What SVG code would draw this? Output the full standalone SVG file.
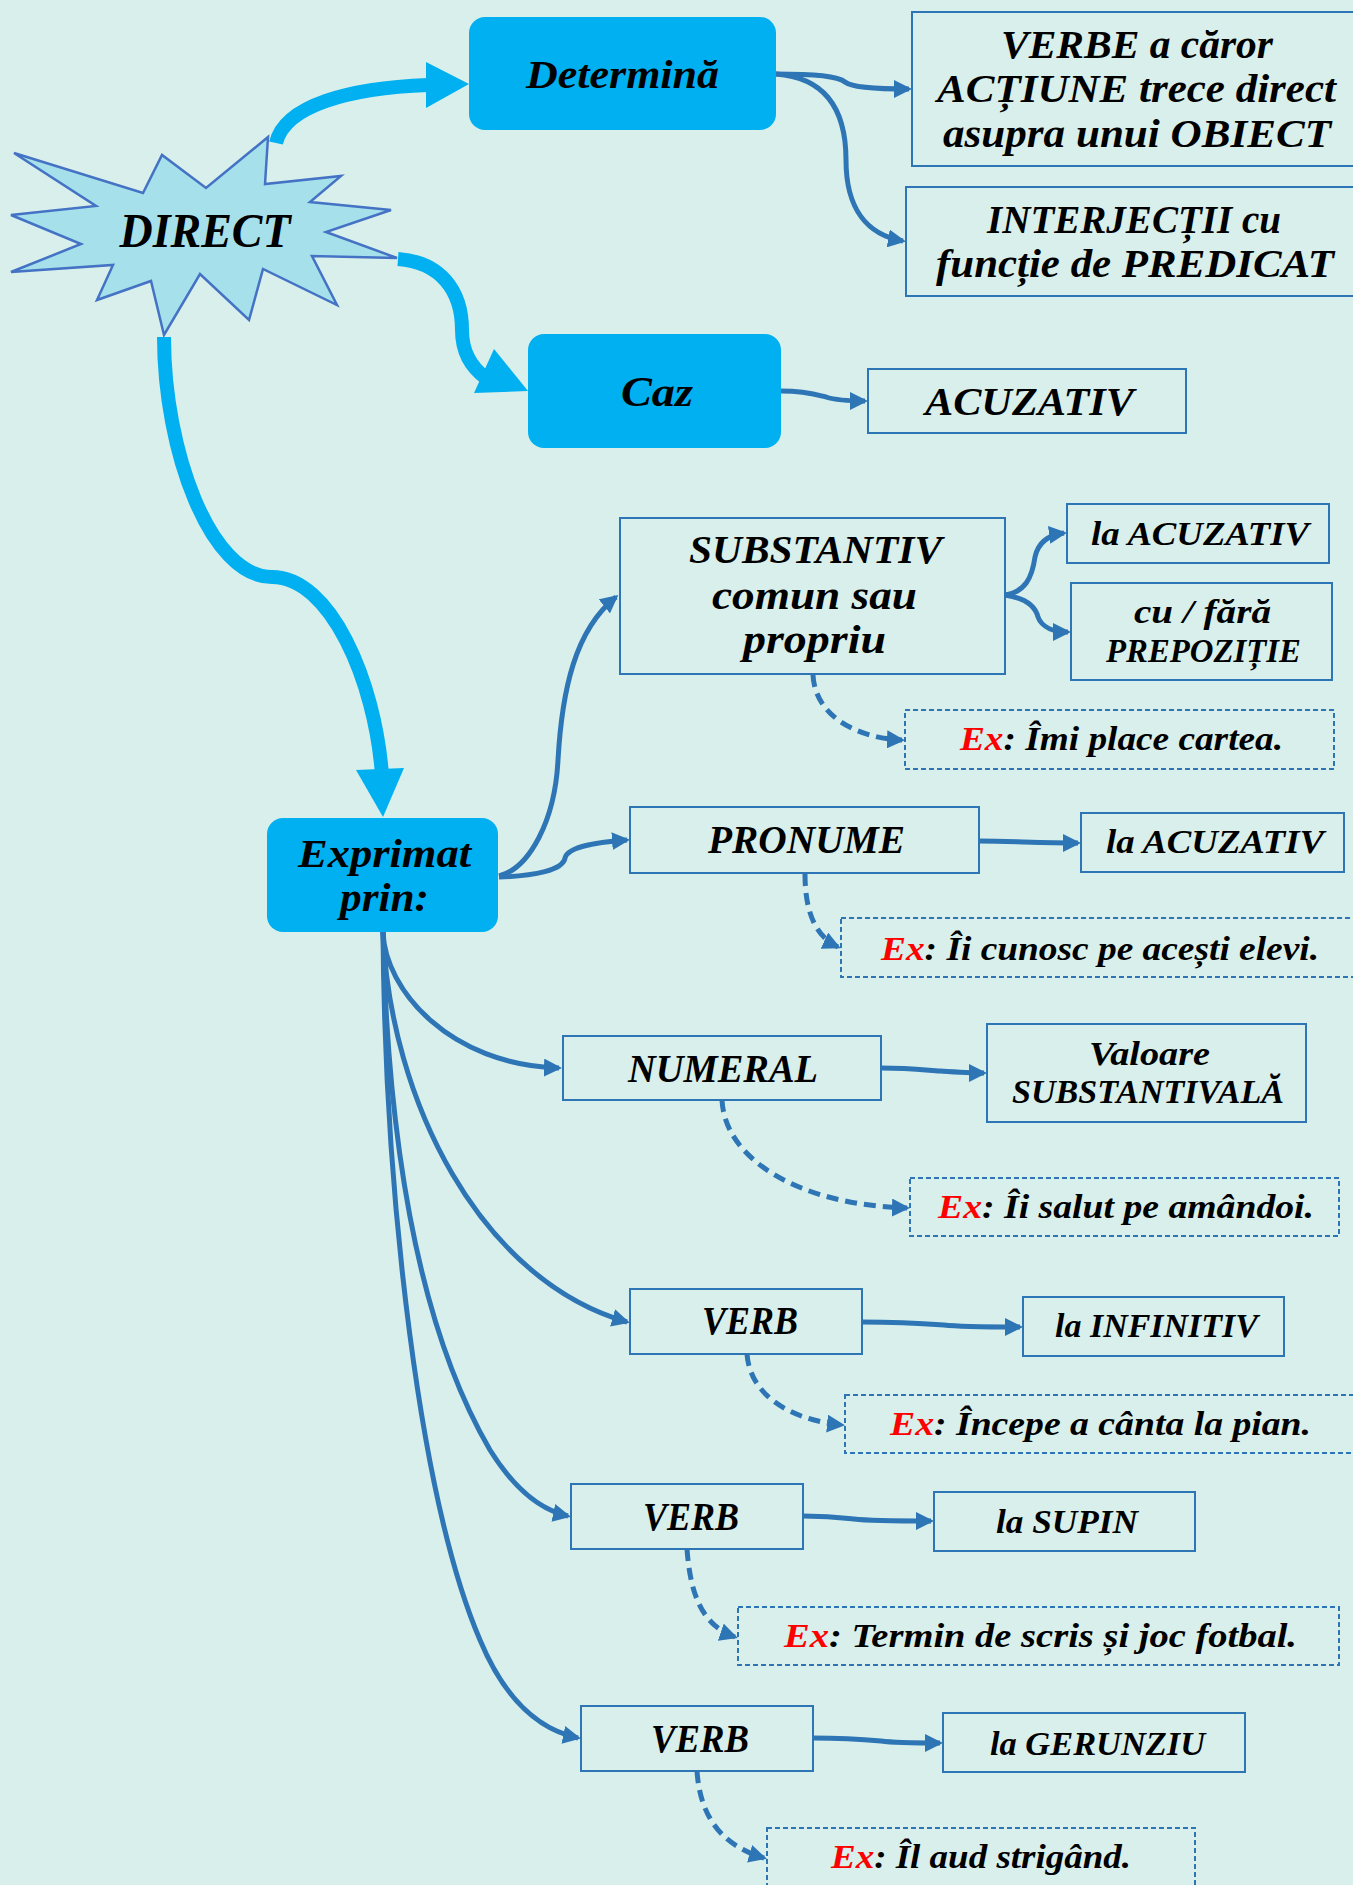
<svg xmlns="http://www.w3.org/2000/svg" width="1353" height="1885" viewBox="0 0 1353 1885">
<style>
text{font-family:"Liberation Serif","Times New Roman",serif;font-weight:bold;font-style:italic;fill:#000}
.big{font-size:40px}
.sm{font-size:34px}
.c{text-anchor:middle}
.red{fill:#ff0000}
.box{fill:none;stroke:#2e75b6;stroke-width:2}
.dbox{fill:none;stroke:#2e75b6;stroke-width:2;stroke-dasharray:5 3}
.pill{fill:#00b0f0}
.ln{fill:none;stroke:#2e75b6;stroke-width:5;marker-end:url(#ah)}
.dl{fill:none;stroke:#2e75b6;stroke-width:5;stroke-dasharray:12 7;marker-end:url(#ah)}
.thick{fill:none;stroke:#00b0f0;stroke-width:14}
.thead{fill:#00b0f0}
</style>
<defs>
<marker id="ah" markerUnits="userSpaceOnUse" markerWidth="18" markerHeight="18" refX="15" refY="9" orient="auto">
<path d="M0,0 L18,9 L0,18 Z" fill="#2e75b6"/>
</marker>
</defs>
<rect x="0" y="0" width="1353" height="1885" fill="#d9efeb"/>

<g id="direct">
<polygon points="268,137 206,188 162,155 143,193 14,153 96,206 11,215 81,244 11,272 113,265 97,300 151,281 164,335 200,274 249,320 263,269 337,305 312,256 397,258 326,232 391,210 310,202 341,176 265,184" fill="#a6e0ea" stroke="#4472c4" stroke-width="2.5" stroke-linejoin="miter"/>
<text class="c" x="205" y="247" font-size="48" textLength="171" lengthAdjust="spacingAndGlyphs">DIRECT</text>
</g>

<g id="connectors">
<path class="thick" d="M276,143 C285,105 350,88 428,85"/>
<polygon class="thead" points="426,62 426,108 469,84"/>
<path class="thick" d="M398,259 C440,262 462,290 462,330 C462,352 472,368 486,378"/>
<polygon class="thead" points="494,349 474,393 528,391"/>
<path class="thick" d="M164,337 C164,450 210,577 272,577 C330,577 375,680 382,775"/>
<polygon class="thead" points="356,770 404,768 383,817"/>

<path class="ln" d="M776,74 C815,74 838,76 845,82 C852,88 880,89 909,89"/>
<path class="ln" d="M776,74 C830,78 846,115 846,160 C846,210 868,235 903,241"/>
<path class="ln" d="M781,391 C805,391 818,395 826,397 C835,400 850,401 865,401"/>
<path class="ln" d="M499,876 C530,868 555,820 558,760 C562,690 575,630 616,597"/>
<path class="ln" d="M499,877 C535,876 563,870 565,858 C568,846 600,842 627,840"/>
<path class="ln" d="M1005,595 C1025,592 1032,578 1035,557 C1038,543 1048,535 1064,533"/>
<path class="ln" d="M1005,595 C1025,598 1035,605 1038,617 C1042,628 1055,632 1068,632"/>
<path class="ln" d="M979,841 C1010,841 1040,843 1078,843"/>
<path class="ln" d="M881,1068 C910,1068 925,1070 940,1071 C955,1072 970,1073 984,1073"/>
<path class="ln" d="M862,1322 C900,1322 930,1324 944,1325 C960,1327 990,1327 1020,1327"/>
<path class="ln" d="M803,1516 C830,1516 845,1518 854,1519 C870,1521 900,1521 931,1521"/>
<path class="ln" d="M813,1738 C845,1738 870,1740 881,1741 C895,1743 920,1743 940,1743"/>
<path class="ln" d="M383,932 C385,990 450,1065 559,1068"/>
<path class="ln" d="M383,932 C390,1100 480,1280 627,1322"/>
<path class="ln" d="M383,932 C388,1150 420,1330 490,1450 C515,1490 540,1510 568,1516"/>
<path class="ln" d="M383,932 C385,1200 420,1500 480,1640 C505,1700 540,1730 578,1738"/>

<path class="dl" d="M813,675 C815,715 855,738 902,740"/>
<path class="dl" d="M805,874 C805,905 812,935 838,947"/>
<path class="dl" d="M722,1100 C725,1160 800,1205 907,1208"/>
<path class="dl" d="M747,1354 C750,1395 790,1420 842,1425"/>
<path class="dl" d="M687,1549 C690,1590 700,1625 735,1637"/>
<path class="dl" d="M697,1771 C700,1815 720,1845 764,1858"/>
</g>

<g id="determina">
<rect class="pill" x="469" y="17" width="307" height="113" rx="16"/>
<text class="big" x="526" y="88" textLength="193" lengthAdjust="spacingAndGlyphs">Determină</text>
</g>
<g id="caz">
<rect class="pill" x="528" y="334" width="253" height="114" rx="16"/>
<text x="621" y="406" font-size="42" textLength="72" lengthAdjust="spacingAndGlyphs">Caz</text>
</g>
<g id="exprimat">
<rect class="pill" x="267" y="818" width="231" height="114" rx="16"/>
<text class="big" x="298" y="867" textLength="173" lengthAdjust="spacingAndGlyphs">Exprimat</text>
<text class="big" x="340" y="911" textLength="89" lengthAdjust="spacingAndGlyphs">prin:</text>
</g>

<g id="verbe">
<rect class="box" x="912" y="12" width="450" height="154"/>
<text class="big" x="1001" y="58" textLength="272" lengthAdjust="spacingAndGlyphs">VERBE a căror</text>
<text class="big" x="937" y="102" textLength="399" lengthAdjust="spacingAndGlyphs">ACȚIUNE trece direct</text>
<text class="big" x="943" y="147" textLength="388" lengthAdjust="spacingAndGlyphs">asupra unui OBIECT</text>
</g>
<g id="interjectii">
<rect class="box" x="906" y="187" width="456" height="109"/>
<text class="big" x="987" y="233" textLength="294" lengthAdjust="spacingAndGlyphs">INTERJECȚII cu</text>
<text class="big" x="936" y="277" textLength="398" lengthAdjust="spacingAndGlyphs">funcție de PREDICAT</text>
</g>
<g id="acuzativ">
<rect class="box" x="868" y="369" width="318" height="64"/>
<text class="big" x="925" y="415" textLength="209" lengthAdjust="spacingAndGlyphs">ACUZATIV</text>
</g>

<g id="substantiv">
<rect class="box" x="620" y="518" width="385" height="156"/>
<text class="big" x="689" y="563" textLength="253" lengthAdjust="spacingAndGlyphs">SUBSTANTIV</text>
<text class="big" x="712" y="609" textLength="205" lengthAdjust="spacingAndGlyphs">comun sau</text>
<text class="big" x="743" y="653" textLength="143" lengthAdjust="spacingAndGlyphs">propriu</text>
</g>
<g id="subst-acuzativ">
<rect class="box" x="1067" y="504" width="262" height="59"/>
<text class="sm" x="1091" y="545" textLength="218" lengthAdjust="spacingAndGlyphs">la ACUZATIV</text>
</g>
<g id="subst-prepozitie">
<rect class="box" x="1071" y="583" width="261" height="97"/>
<text class="sm" x="1134" y="623" textLength="137" lengthAdjust="spacingAndGlyphs">cu / fără</text>
<text class="sm" x="1106" y="662" textLength="195" lengthAdjust="spacingAndGlyphs">PREPOZIȚIE</text>
</g>
<g id="ex1">
<rect class="dbox" x="905" y="710" width="429" height="59"/>
<text class="sm" x="960" y="750" textLength="323" lengthAdjust="spacingAndGlyphs"><tspan class="red">Ex</tspan>: Îmi place cartea.</text>
</g>

<g id="pronume">
<rect class="box" x="630" y="807" width="349" height="66"/>
<text class="big" x="708" y="853" textLength="197" lengthAdjust="spacingAndGlyphs">PRONUME</text>
</g>
<g id="pron-acuzativ">
<rect class="box" x="1081" y="813" width="263" height="59"/>
<text class="sm" x="1106" y="853" textLength="218" lengthAdjust="spacingAndGlyphs">la ACUZATIV</text>
</g>
<g id="ex2">
<rect class="dbox" x="841" y="918" width="520" height="59"/>
<text class="sm" x="881" y="960" textLength="438" lengthAdjust="spacingAndGlyphs"><tspan class="red">Ex</tspan>: Îi cunosc pe acești elevi.</text>
</g>

<g id="numeral">
<rect class="box" x="563" y="1036" width="318" height="64"/>
<text class="big" x="628" y="1082" textLength="190" lengthAdjust="spacingAndGlyphs">NUMERAL</text>
</g>
<g id="valoare">
<rect class="box" x="987" y="1024" width="319" height="98"/>
<text class="sm" x="1089" y="1065" textLength="121" lengthAdjust="spacingAndGlyphs">Valoare</text>
<text class="sm" x="1012" y="1103" textLength="272" lengthAdjust="spacingAndGlyphs">SUBSTANTIVALĂ</text>
</g>
<g id="ex3">
<rect class="dbox" x="910" y="1178" width="429" height="58"/>
<text class="sm" x="938" y="1218" textLength="376" lengthAdjust="spacingAndGlyphs"><tspan class="red">Ex</tspan>: Îi salut pe amândoi.</text>
</g>

<g id="verb1">
<rect class="box" x="630" y="1289" width="232" height="65"/>
<text class="big" x="702" y="1334" textLength="96" lengthAdjust="spacingAndGlyphs">VERB</text>
</g>
<g id="infinitiv">
<rect class="box" x="1023" y="1297" width="261" height="59"/>
<text class="sm" x="1055" y="1337" textLength="203" lengthAdjust="spacingAndGlyphs">la INFINITIV</text>
</g>
<g id="ex4">
<rect class="dbox" x="845" y="1395" width="516" height="58"/>
<text class="sm" x="890" y="1435" textLength="421" lengthAdjust="spacingAndGlyphs"><tspan class="red">Ex</tspan>: Începe a cânta la pian.</text>
</g>

<g id="verb2">
<rect class="box" x="571" y="1484" width="232" height="65"/>
<text class="big" x="643" y="1530" textLength="96" lengthAdjust="spacingAndGlyphs">VERB</text>
</g>
<g id="supin">
<rect class="box" x="934" y="1492" width="261" height="59"/>
<text class="sm" x="996" y="1533" textLength="142" lengthAdjust="spacingAndGlyphs">la SUPIN</text>
</g>
<g id="ex5">
<rect class="dbox" x="738" y="1607" width="601" height="58"/>
<text class="sm" x="784" y="1647" textLength="513" lengthAdjust="spacingAndGlyphs"><tspan class="red">Ex</tspan>: Termin de scris și joc fotbal.</text>
</g>

<g id="verb3">
<rect class="box" x="581" y="1706" width="232" height="65"/>
<text class="big" x="651" y="1752" textLength="98" lengthAdjust="spacingAndGlyphs">VERB</text>
</g>
<g id="gerunziu">
<rect class="box" x="943" y="1713" width="302" height="59"/>
<text class="sm" x="990" y="1755" textLength="215" lengthAdjust="spacingAndGlyphs">la GERUNZIU</text>
</g>
<g id="ex6">
<rect class="dbox" x="767" y="1828" width="428" height="70"/>
<text class="sm" x="831" y="1868" textLength="300" lengthAdjust="spacingAndGlyphs"><tspan class="red">Ex</tspan>: Îl aud strigând.</text>
</g>
</svg>
